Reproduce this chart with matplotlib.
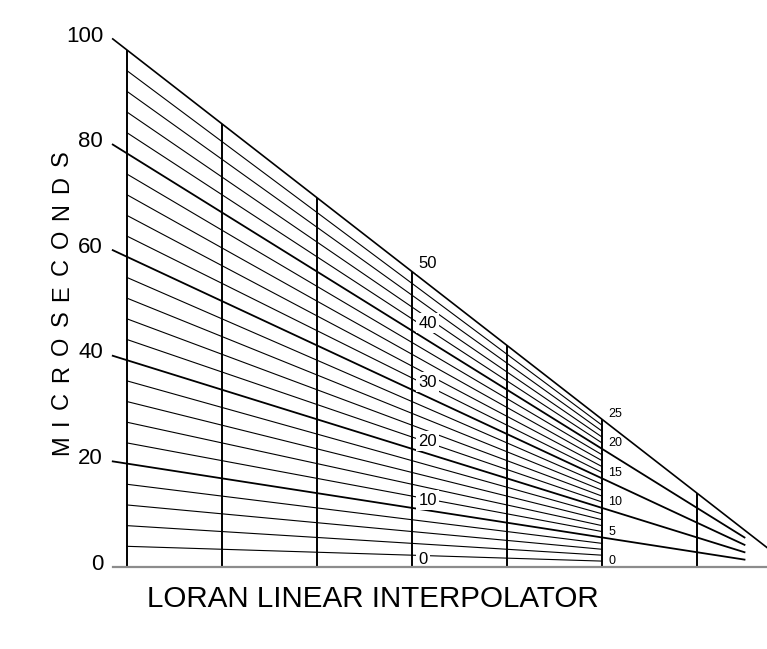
import matplotlib
matplotlib.use('Agg')
import matplotlib.pyplot as plt
import numpy as np

plt.rcParams['font.family'] = ['Liberation Sans', 'DejaVu Sans']

# microsecond values where each fan line starts on the left scale
fan_values = list(range(0, 101, 4))
major_values = [0, 20, 40, 60, 80, 100]
left_labels = ['0', '20', '40', '60', '80', '100']
mid_labels = ['0', '10', '20', '30', '40', '50']      # scale on column 3
right_labels = ['0', '5', '10', '15', '20', '25']     # scale on column 5
columns = [0, 1, 2, 3, 4, 5, 6]
apex = 7  # all lines meet here on the baseline

# pixel layout of the original drawing
W, H = 767, 649
x0_px, col_px = 127, 95
y0_px, unit_px = 567, 5.17

fig = plt.figure(figsize=(W / 100, H / 100), dpi=100)
ax = fig.add_axes([0, 0, 1, 1])
ax.set_xlim(-x0_px / col_px, (W - x0_px) / col_px)
ax.set_ylim((y0_px - H) / unit_px, y0_px / unit_px)
ax.axis('off')


def fan_y(v, x):
    return v * (apex - np.asarray(x, dtype=float)) / apex


# vertical columns
for c in columns:
    ax.plot([c, c], [0, fan_y(100, c)], color='black', lw=1.4, solid_capstyle='butt')

# fan lines
for v in fan_values:
    if v == 0:
        xs = np.array([-0.15, apex + 0.5])
        ax.plot(xs, fan_y(v, xs), color='#8c8c8c', lw=1.6, zorder=5)
    elif v == 100:
        xs = np.array([-0.15, apex])
        ax.plot(xs, fan_y(v, xs), color='black', lw=1.2)
    elif v in major_values:
        xs = np.array([-0.15, 6.5])
        ax.plot(xs, fan_y(v, xs), color='black', lw=1.3)
    else:
        xs = np.array([0, 5])
        ax.plot(xs, fan_y(v, xs), color='black', lw=0.8)

# scale labels
for v, lab in zip(major_values, left_labels):
    ax.annotate(lab, (-0.15, fan_y(v, -0.15)), xytext=(-7, 2), textcoords='offset points',
                ha='right', va='center', fontsize=16)

for v, lab in zip(major_values, mid_labels):
    ax.annotate(lab, (3, fan_y(v, 3)), xytext=(4.5, 5.5), textcoords='offset points',
                ha='left', va='center', fontsize=12,
                bbox=dict(boxstyle='square,pad=0.15', fc='white', ec='none'))

for v, lab in zip(major_values, right_labels):
    ax.annotate(lab, (5, fan_y(v, 5)), xytext=(4.5, 4), textcoords='offset points',
                ha='left', va='center', fontsize=9)

# title
fig.text(373 / W, 1 - 607 / H, 'LORAN LINEAR INTERPOLATOR', ha='center', va='baseline',
         fontsize=21.3)

# spaced vertical axis label, letter by letter
word = 'MICROSECONDS'
renderer = fig.canvas.get_renderer()
letters = [fig.text(62 / W, 0, ch, rotation=90, ha='center', va='bottom', fontsize=17)
           for ch in word]
heights = [t.get_window_extent(renderer).height for t in letters]
span = 305.0
gap = (span - sum(heights)) / (len(word) - 1)
ypos = H - 455
for t, h in zip(letters, heights):
    t.set_y(ypos / H)
    ypos += h + gap

fig.savefig('out.png', dpi=100)
